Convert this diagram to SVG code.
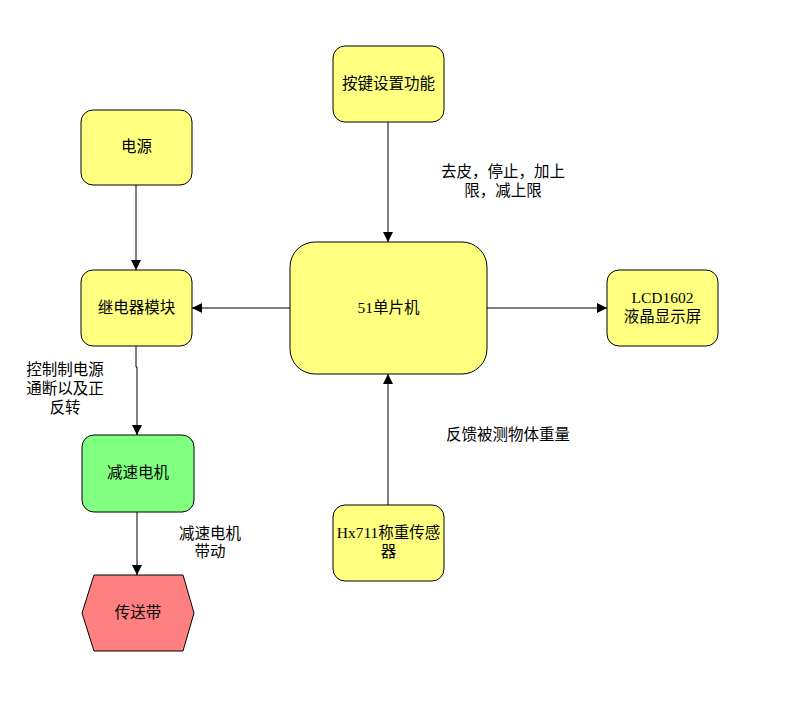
<svg xmlns="http://www.w3.org/2000/svg" width="795" height="711" viewBox="0 0 795 711">
<defs>
<style>
.n{stroke:#000;stroke-width:1;}
.y{fill:#FFFF80;}
.g{fill:#80FF80;}
.r{fill:#FF8080;}
.t{font-family:"Liberation Serif","Noto Sans CJK SC",serif;font-size:15.5px;fill:#000;text-anchor:middle;}
.c{stroke:#000;stroke-width:1;fill:none;marker-end:url(#a);}
</style>
<marker id="a" viewBox="0 0 10 10" refX="10" refY="5" markerWidth="10" markerHeight="10" markerUnits="userSpaceOnUse" orient="auto">
<path d="M0,0 L10,5 L0,10 Z" fill="#000"/>
</marker>
</defs>
<rect width="795" height="711" fill="#fff"/>
<g id="connectors">
<path class="c" d="M388,122 V242"/>
<path class="c" d="M136,185 V270"/>
<path class="c" d="M290,308 H192"/>
<path class="c" d="M487,308 H607"/>
<path class="c" d="M136,346 V367 H137 V435"/>
<path class="c" d="M137,512 V575"/>
<path class="c" d="M388,505 V374"/>
</g>
<g id="labels">
<text class="t" x="503" y="177">去皮，停止，加上</text>
<text class="t" x="503" y="196">限，减上限</text>
<text class="t" x="65" y="375">控制制电源</text>
<text class="t" x="65" y="394">通断以及正</text>
<text class="t" x="65" y="413">反转</text>
<text class="t" x="210" y="539">减速电机</text>
<text class="t" x="210" y="557">带动</text>
<text class="t" x="508" y="440">反馈被测物体重量</text>
</g>
<g id="n_key">
<rect class="n y" x="333" y="46" width="111" height="76" rx="12"/>
<text class="t" x="388.5" y="89">按键设置功能</text>
</g>
<g id="n_power">
<rect class="n y" x="81" y="110" width="111" height="75" rx="12"/>
<text class="t" x="136.5" y="152">电源</text>
</g>
<g id="n_relay">
<rect class="n y" x="81" y="270" width="111" height="76" rx="12"/>
<text class="t" x="136.5" y="313">继电器模块</text>
</g>
<g id="n_mcu">
<rect class="n y" x="290" y="242" width="197" height="132" rx="25"/>
<text class="t" x="388.5" y="313">51单片机</text>
</g>
<g id="n_lcd">
<rect class="n y" x="607" y="270" width="111" height="76" rx="12"/>
<text class="t" x="662.5" y="303">LCD1602</text>
<text class="t" x="662.5" y="322">液晶显示屏</text>
</g>
<g id="n_motor">
<rect class="n g" x="82" y="435" width="112" height="77" rx="12"/>
<text class="t" x="138" y="478">减速电机</text>
</g>
<g id="n_belt">
<polygon class="n r" points="94,575 183,575 194,613 183,651 94,651 82,613"/>
<text class="t" x="138" y="618">传送带</text>
</g>
<g id="n_hx">
<rect class="n y" x="333" y="505" width="111" height="76" rx="12"/>
<text class="t" x="388.5" y="538">Hx711称重传感</text>
<text class="t" x="388.5" y="557">器</text>
</g>
</svg>
